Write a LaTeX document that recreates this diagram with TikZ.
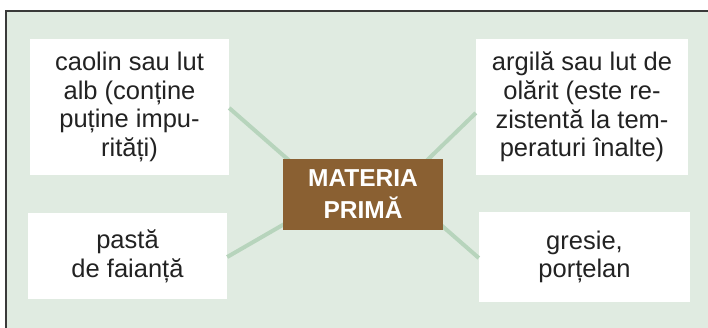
\documentclass[tikz,border=0pt]{standalone}
\usepackage{fontspec}
\setmainfont{Liberation Sans}
\definecolor{bgfill}{HTML}{E0EBE1}
\definecolor{framecol}{HTML}{3A3A3A}
\definecolor{linkcol}{HTML}{B7D4BC}
\definecolor{brownbox}{HTML}{8A6032}
\definecolor{txtcol}{HTML}{222222}
\begin{document}
\begin{tikzpicture}[x=1pt,y=-1pt,
  leaf/.style={fill=white, draw=none, inner sep=0pt, align=center, text=txtcol,
    font=\fontsize{25.5}{28.7}\selectfont},
  hub/.style={fill=brownbox, draw=none, inner sep=0pt, align=center, text=white,
    font=\fontsize{24.5}{32}\selectfont\bfseries, minimum width=160pt, minimum height=71pt},
  link/.style={draw=linkcol, line width=4pt}]
\useasboundingbox (0,0) rectangle (708,328);
% background frame
\fill[white] (0,0) rectangle (708,328);
\fill[bgfill] (6,11) rectangle (708,328);
\draw[framecol, line width=1.5pt] (6,328) -- (6,11) -- (708,11);
% leaf boxes
\node[leaf, minimum width=199pt, minimum height=136pt] (tl) at (129.5,107) {caolin sau lut\\alb (conține\\puține impu-\\rități)};
\node[leaf, minimum width=212pt, minimum height=136pt] (tr) at (582,107) {argilă sau lut de\\olărit (este re-\\zistentă la tem-\\peraturi înalte)};
\node[leaf, minimum width=199pt, minimum height=86pt] (bl) at (127.5,256) {pastă\\de faianță};
\node[leaf, minimum width=211pt, minimum height=90pt] (br) at (584.5,257) {gresie,\\porțelan};
\coordinate (tlend) at (300,170);
\coordinate (trend) at (415,172);
\coordinate (blend) at (300,215);
\coordinate (brend) at (425,211);
% connectors
\draw[link] ([yshift=-1pt]tl.east) -- (tlend);
\draw[link] ([yshift=-6pt]tr.west) -- (trend);
\draw[link] ([yshift=-1pt]bl.east) -- (blend);
\draw[link] ([yshift=-1pt]br.west) -- (brend);
\node[hub] (c) at (363,194.5) {MATERIA\\PRIMĂ};
\end{tikzpicture}
\end{document}
